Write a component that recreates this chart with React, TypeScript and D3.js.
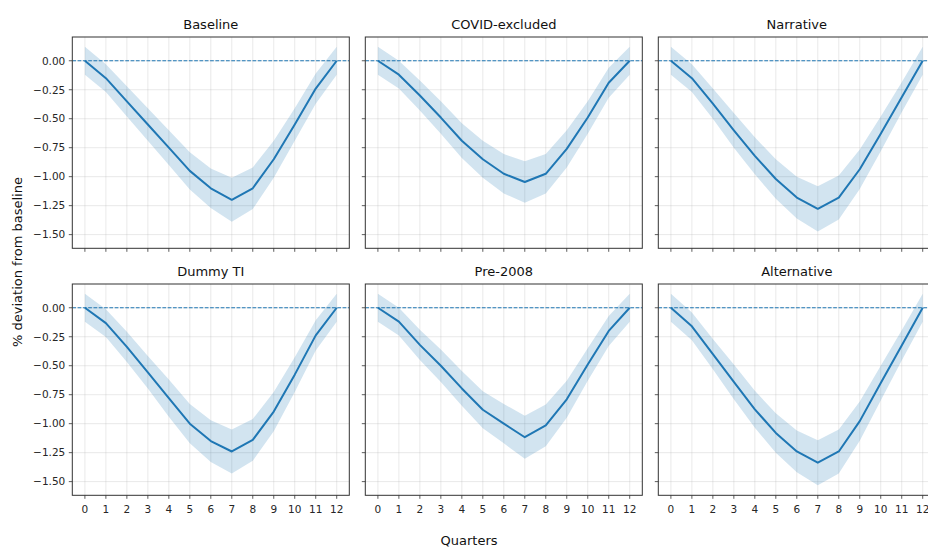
import * as d3 from "d3";

// quarters on the x axis
const quarters = [0, 1, 2, 3, 4, 5, 6, 7, 8, 9, 10, 11, 12];

const panelTitles = ["Baseline", "COVID-excluded", "Narrative", "Dummy TI", "Pre-2008", "Alternative"];

// point estimates, % deviation from baseline
const baselineMean = [0, -0.15, -0.35, -0.55, -0.75, -0.95, -1.1, -1.2, -1.1, -0.85, -0.55, -0.24, 0];
const covidMean = [0, -0.12, -0.3, -0.49, -0.69, -0.85, -0.975, -1.046, -0.975, -0.76, -0.49, -0.19, 0];
const narrativeMean = [0, -0.15, -0.37, -0.6, -0.82, -1.02, -1.18, -1.277, -1.18, -0.936, -0.63, -0.315, 0];
const dummyMean = [0, -0.133, -0.337, -0.557, -0.78, -1.0, -1.15, -1.24, -1.14, -0.896, -0.577, -0.238, 0];
const pre2008Mean = [0, -0.12, -0.32, -0.5, -0.696, -0.88, -1.0, -1.117, -1.015, -0.79, -0.49, -0.2, 0];
const altMean = [0, -0.16, -0.4, -0.64, -0.876, -1.08, -1.24, -1.337, -1.24, -0.978, -0.65, -0.325, 0];

// half-width of the shaded band
const baselineBand = [0.12, 0.12, 0.13, 0.14, 0.15, 0.16, 0.17, 0.19, 0.18, 0.16, 0.14, 0.13, 0.12];
const covidBand = [0.12, 0.12, 0.13, 0.14, 0.15, 0.16, 0.17, 0.18, 0.17, 0.16, 0.14, 0.13, 0.12];
const narrativeBand = [0.12, 0.12, 0.13, 0.15, 0.16, 0.17, 0.18, 0.195, 0.19, 0.17, 0.15, 0.13, 0.12];
const dummyBand = [0.12, 0.12, 0.13, 0.14, 0.16, 0.17, 0.18, 0.19, 0.18, 0.17, 0.15, 0.13, 0.12];
const pre2008Band = [0.12, 0.12, 0.13, 0.14, 0.15, 0.16, 0.17, 0.185, 0.18, 0.16, 0.14, 0.13, 0.12];
const altBand = [0.12, 0.12, 0.13, 0.15, 0.16, 0.17, 0.18, 0.195, 0.19, 0.17, 0.15, 0.13, 0.12];

const yTicks = [0, -0.25, -0.5, -0.75, -1.0, -1.25, -1.5];

const means = [baselineMean, covidMean, narrativeMean, dummyMean, pre2008Mean, altMean];
const bands = [baselineBand, covidBand, narrativeBand, dummyBand, pre2008Band, altBand];

const W = 928;
const H = 549;
const colLeft = [72.3, 365.3, 658.3];
const rowTop = [37, 284];
const pw = 277;
const ph = 211.3;
const blue = "#1f77b4";
const font = "DejaVu Sans, sans-serif";

function Panel({ idx }: { idx: number }) {
  const col = idx % 3;
  const row = Math.floor(idx / 3);
  const x0 = colLeft[col];
  const y0 = rowTop[row];

  const x = d3.scaleLinear().domain([-0.6, 12.6]).range([x0, x0 + pw]);
  const y = d3.scaleLinear().domain([-1.618, 0.205]).range([y0 + ph, y0]);

  const mean = means[idx];
  const hw = bands[idx];
  const pts = quarters.map((q, i) => ({ q, m: mean[i], lo: mean[i] - hw[i], hi: mean[i] + hw[i] }));

  const area = d3.area<any>().x(d => x(d.q)).y0(d => y(d.lo)).y1(d => y(d.hi));
  const line = d3.line<any>().x(d => x(d.q)).y(d => y(d.m));

  const clipId = `clip${idx}`;

  return (
    <g>
      <defs>
        <clipPath id={clipId}>
          <rect x={x0} y={y0} width={pw} height={ph} />
        </clipPath>
      </defs>
      {/* grid */}
      <g stroke="#b0b0b0" strokeOpacity={0.35} strokeWidth={0.8}>
        {quarters.map(q => (
          <line key={"gx" + q} x1={x(q)} x2={x(q)} y1={y0} y2={y0 + ph} />
        ))}
        {yTicks.map(t => (
          <line key={"gy" + t} x1={x0} x2={x0 + pw} y1={y(t)} y2={y(t)} />
        ))}
      </g>
      <g clipPath={`url(#${clipId})`}>
        <path d={area(pts) || ""} fill={blue} fillOpacity={0.2} />
        <line x1={x0} x2={x0 + pw} y1={y(0)} y2={y(0)} stroke={blue} strokeWidth={1} strokeDasharray="3.7,1.6" />
        <path d={line(pts) || ""} fill="none" stroke={blue} strokeWidth={2} strokeLinejoin="round" />
      </g>
      {/* spines */}
      <rect x={x0} y={y0} width={pw} height={ph} fill="none" stroke="#333" strokeWidth={1} />
      {/* y ticks */}
      {yTicks.map(t => (
        <g key={"ty" + t}>
          <line x1={x0 - 3.5} x2={x0} y1={y(t)} y2={y(t)} stroke="#333" strokeWidth={0.8} />
          {col === 0 && (
            <text x={x0 - 7} y={y(t)} dy="0.36em" textAnchor="end" fontSize={10.5} fill="#262626" fontFamily={font}>
              {d3.format(".2f")(t).replace("-", "\u2212")}
            </text>
          )}
        </g>
      ))}
      {/* x ticks */}
      {quarters.map(q => (
        <g key={"tx" + q}>
          <line x1={x(q)} x2={x(q)} y1={y0 + ph} y2={y0 + ph + 3.5} stroke="#333" strokeWidth={0.8} />
          {row === 1 && (
            <text x={x(q)} y={y0 + ph + 17.5} textAnchor="middle" fontSize={10.5} fill="#262626" fontFamily={font}>
              {q}
            </text>
          )}
        </g>
      ))}
      <text x={x0 + pw / 2} y={y0 - 8} textAnchor="middle" fontSize={13} fill="#111" fontFamily={font}>
        {panelTitles[idx]}
      </text>
    </g>
  );
}

export default function App() {
  return (
    <svg
      width={W}
      height={H}
      viewBox={`0 0 ${W} ${H}`}
      style={{ position: "absolute", left: 0, top: 0, background: "#fff" }}
    >
      <rect width={W} height={H} fill="#fff" />
      {panelTitles.map((_, i) => (
        <Panel key={i} idx={i} />
      ))}
      <text
        transform={`translate(22, 262) rotate(-90)`}
        textAnchor="middle"
        fontSize={13}
        fill="#111"
        fontFamily={font}
      >
        % deviation from baseline
      </text>
      <text x={469} y={545} textAnchor="middle" fontSize={13} fill="#111" fontFamily={font}>
        Quarters
      </text>
    </svg>
  );
}
